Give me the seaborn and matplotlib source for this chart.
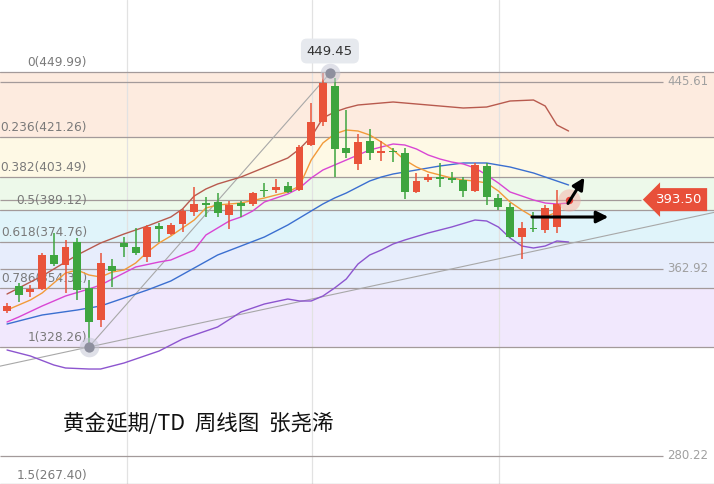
import numpy as np
import pandas as pd
import matplotlib
matplotlib.use("Agg")
import matplotlib.pyplot as plt
import seaborn as sns

# ---------------- data ----------------
opens = [344.20, 355.27, 352.61, 353.94, 368.99, 364.56, 374.74, 354.38, 340.22, 364.12,
         374.30, 372.53, 368.10, 381.83, 378.29, 382.71, 388.02, 391.79, 392.45, 386.70,
         392.01, 391.57, 397.54, 397.76, 399.53, 397.76, 417.68, 427.86, 443.80, 416.35,
         409.27, 419.45, 414.14, 415.03, 414.14, 396.88, 402.19, 403.30, 402.85, 402.19,
         397.32, 408.39, 394.22, 390.24, 376.96, 380.72, 380.06, 381.38]
closes = [346.41, 351.28, 353.94, 368.99, 365.01, 372.53, 353.50, 339.33, 365.45, 361.91,
          372.53, 369.87, 381.38, 380.50, 382.27, 388.47, 391.57, 391.34, 387.58, 391.12,
          390.68, 396.43, 397.10, 399.09, 396.88, 416.80, 427.86, 445.13, 415.91, 414.14,
          419.01, 414.14, 415.03, 414.58, 396.88, 401.75, 403.52, 402.85, 402.41, 397.32,
          408.83, 394.66, 390.24, 376.96, 380.94, 380.28, 389.79, 391.57]
highs = [347.74, 356.59, 355.71, 369.87, 378.73, 375.63, 376.51, 357.92, 369.87, 367.22,
         376.96, 380.94, 382.27, 383.15, 383.15, 389.35, 399.09, 394.66, 396.43, 392.89,
         392.89, 396.88, 400.86, 402.63, 401.30, 417.68, 436.27, 449.45, 447.34, 433.18,
         422.55, 424.77, 419.45, 416.35, 416.35, 405.29, 404.85, 409.72, 405.73, 403.52,
         409.72, 409.72, 395.99, 392.01, 383.60, 388.02, 391.12, 397.76]
lows = [343.31, 348.18, 350.40, 353.50, 364.12, 352.17, 349.07, 328.26, 337.12, 354.82,
        368.10, 368.99, 365.89, 374.74, 377.84, 379.17, 386.25, 385.81, 385.81, 380.50,
        385.81, 390.68, 394.66, 396.43, 396.43, 397.32, 417.24, 426.09, 403.52, 411.93,
        406.62, 411.04, 410.60, 410.16, 393.78, 396.43, 401.30, 399.09, 400.86, 394.66,
        396.88, 391.12, 388.91, 376.51, 367.22, 379.17, 378.73, 378.73]

orange_x = [0, 2, 3, 4, 5, 6, 7, 8, 9, 10, 11, 12, 13, 14, 15, 16, 17, 18, 19, 20,
            22, 24, 25, 26, 27, 28, 29, 30, 31, 32, 33, 34, 35, 36, 37, 38, 39, 40, 41, 42,
            43, 44, 45, 46, 47]
orange_y = [344.64, 349.07, 352.17, 356.59, 361.02, 362.35, 360.14, 359.25, 361.46, 362.35,
            365.45, 370.32, 374.30, 377.40, 380.94, 384.48, 389.79, 391.12, 391.57, 392.01,
            394.22, 396.88, 399.53, 411.04, 418.57, 422.55, 424.32, 423.88, 422.11, 419.01,
            415.47, 411.04, 407.94, 405.73, 404.40, 403.07, 402.19, 401.75, 400.86, 397.32,
            392.45, 388.91, 385.81, 385.81, 388.02]

magenta_x = [0, 1, 3, 5, 7, 8, 10, 11, 13, 14, 16, 17, 18, 19, 20, 21, 22, 24, 25, 26,
             27, 28, 29, 30, 31, 32, 33, 34, 35, 36, 37, 38, 39, 40, 41, 42, 43, 44, 45, 46,
             47, 48]
magenta_y = [339.33, 341.54, 346.41, 350.84, 353.94, 355.71, 361.02, 363.68, 365.89, 366.78,
             371.20, 377.84, 380.94, 384.04, 385.81, 388.47, 392.45, 395.99, 398.65, 403.07,
             406.62, 408.83, 411.04, 413.26, 415.47, 416.80, 418.13, 417.68, 415.91, 413.26,
             411.49, 410.16, 409.27, 407.50, 404.40, 400.86, 396.88, 395.11, 393.34, 392.01,
             391.57, 392.01]

blue_x = [0, 3, 6, 8, 10, 12, 14, 16, 18, 20, 22, 24, 26, 27, 28, 29, 30, 31, 32, 33,
          35, 37, 39, 41, 43, 45, 46, 47, 48]
blue_y = [338.44, 342.43, 344.64, 346.41, 349.95, 353.50, 357.48, 363.23, 368.99, 372.97,
          376.96, 382.27, 388.47, 391.57, 394.22, 396.43, 399.09, 401.75, 403.52, 404.85,
          406.62, 408.39, 409.72, 409.72, 407.94, 405.29, 403.52, 401.75, 399.98]

upper_x = [0, 3, 5, 6, 8, 10, 12, 14, 15, 16, 17, 18, 20, 24, 25, 26, 27, 28, 29, 30,
           33, 36, 39, 41, 43, 45, 46, 47, 48]
upper_y = [351.72, 359.69, 365.89, 368.99, 374.30, 378.29, 381.83, 385.81, 389.35, 395.10,
           398.21, 400.42, 403.52, 411.93, 415.91, 421.22, 429.63, 432.29, 434.06, 435.39,
           436.72, 435.39, 434.06, 434.50, 437.16, 437.60, 434.95, 426.54, 423.88]

lower_x = [0, 2, 4, 5, 7, 8, 10, 13, 15, 18, 20, 22, 24, 25, 26, 27, 28, 29, 30, 31,
           32, 33, 34, 36, 38, 40, 41, 42, 43, 44, 45, 46, 47, 48]
lower_y = [326.94, 324.28, 320.30, 318.97, 318.52, 318.52, 321.18, 326.49, 331.80, 337.12,
           343.76, 347.30, 349.51, 348.63, 348.63, 350.84, 354.38, 358.37, 365.00, 369.00,
           371.20, 373.86, 375.63, 378.73, 381.38, 384.48, 384.04, 381.38, 376.51, 372.97,
           372.09, 372.97, 375.19, 374.74]

fib_ratios = ["0", "0.236", "0.382", "0.5", "0.618", "0.786", "1", "1.5"]
fib_values = [449.99, 421.26, 403.49, 389.12, 374.76, 354.31, 328.26, 267.40]
band_colors = ["#fdebdf", "#fef9e5", "#edf9ea", "#e0f4fa", "#e7edfc", "#f1e8fd"]

side_values = [445.61, 362.92, 280.22]
last_price = 393.50
low_point = (7, 328.26)
high_point = (27.6, 449.45)
trend_point = (59.8, 387.14)

title = "黄金延期/TD  周线图  张尧浠"

# ---------------- figure ----------------
sns.set_style("white")
plt.rcParams["font.family"] = ["DejaVu Sans"]

fig = plt.figure(figsize=(7.14, 4.84), dpi=100)
ax = fig.add_axes([0, 0, 1, 1])
ax.set_xlim(-0.6, 60.43)
ax.set_ylim(267.62, 481.87)
ax.axis("off")

# fib bands
for i, col in enumerate(band_colors):
    ax.axhspan(fib_values[i + 1], fib_values[i], color=col, lw=0, zorder=0)

# faint vertical grid
for gx in [10.26, 26.07, 42.05]:
    ax.axvline(gx, color="#e2e2e2", lw=0.9, zorder=0.5)

line_col = "#a39a9a"
for v in fib_values:
    ax.axhline(v, color=line_col, lw=0.9, zorder=1)
for v in side_values:
    ax.hlines(v, -0.6, 56.1, color=line_col, lw=0.9, zorder=1)
    ax.text(56.45, v, f"{v:.2f}", ha="left", va="center", fontsize=8.5,
            color="#a0a0a0", zorder=1.5)
ax.hlines(last_price, -0.6, 54.2, color=line_col, lw=0.9, zorder=1)

for r, v in zip(fib_ratios, fib_values):
    ax.annotate(f"{r}({v:.2f})", xy=(6.84, v), xytext=(0, 2),
                textcoords="offset points", ha="right", va="bottom",
                fontsize=8.7, color="#7a7a7a", zorder=1.5, annotation_clip=False)

# trend lines
ax.axline(low_point, trend_point, color="#a8a8a8", lw=0.8, zorder=2)
sns.lineplot(x=[low_point[0], high_point[0]], y=[low_point[1], high_point[1]],
             ax=ax, color="#a8a8a8", lw=0.8, zorder=2)

# indicator lines
series = [
    (upper_x, upper_y, "#b85a4e"),
    (lower_x, lower_y, "#8d55cf"),
    (blue_x, blue_y, "#3b6fd0"),
    (magenta_x, magenta_y, "#d946d4"),
    (orange_x, orange_y, "#f29a3a"),
]
for xs, ys, col in series:
    df = pd.DataFrame({"x": xs, "y": ys})
    sns.lineplot(data=df, x="x", y="y", ax=ax, color=col, lw=1.0, zorder=3,
                 estimator=None, sort=True)

ax.axis("off")

# candles
o = np.array(opens)
c = np.array(closes)
h = np.array(highs)
l = np.array(lows)
idx = np.arange(len(o))
up = c >= o
colors = np.where(up, "#e9533a", "#3ea53f")
ax.vlines(idx, l, h, colors=colors, lw=1.1, zorder=4)
body = np.maximum(np.abs(c - o), 0.45)
ax.bar(idx, body, bottom=np.minimum(o, c), width=0.68, color=colors, zorder=5,
       linewidth=0)

# markers
for pt in [low_point, high_point]:
    ax.scatter(*pt, s=200, color="#c5c8d6", alpha=0.55, zorder=6, linewidths=0)
    ax.scatter(*pt, s=55, color="#8d8f9e", zorder=7, linewidths=0)

ax.annotate(f"{high_point[1]:.2f}", xy=high_point, xytext=(0, 16),
            textcoords="offset points", ha="center", va="center", fontsize=9.5,
            color="#333333", zorder=8,
            bbox=dict(boxstyle="round,pad=0.45", fc="#e6e9ee", ec="none"))

ax.scatter(48, last_price, s=260, color="#f6a9a0", alpha=0.45, zorder=6, linewidths=0)
ax.scatter(48, last_price, s=28, color="#e8433a", zorder=7, linewidths=0)

ax.text(55.45, last_price, f"{last_price:.2f}", color="white", fontsize=9.5,
        ha="left", va="center", zorder=8,
        bbox=dict(boxstyle="larrow,pad=0.38", fc="#e8503a", ec="none"))

# arrows
ax.annotate("", xy=(49.35, 403.3), xytext=(47.95, 391.8),
            arrowprops=dict(arrowstyle="-|>,head_length=0.7,head_width=0.35",
                            color="black", lw=2.2, shrinkA=0, shrinkB=0), zorder=9)
ax.annotate("", xy=(51.4, 385.81), xytext=(44.87, 385.81),
            arrowprops=dict(arrowstyle="-|>,head_length=0.7,head_width=0.35",
                            color="black", lw=2.2, shrinkA=0, shrinkB=0), zorder=9)

fig.text(63 / 714, 1 - 424 / 484, title, fontsize=15.5, ha="left", va="center",
         color="#111111", family=["Noto Sans CJK SC", "DejaVu Sans"])

fig.savefig("out.png", dpi=100)
